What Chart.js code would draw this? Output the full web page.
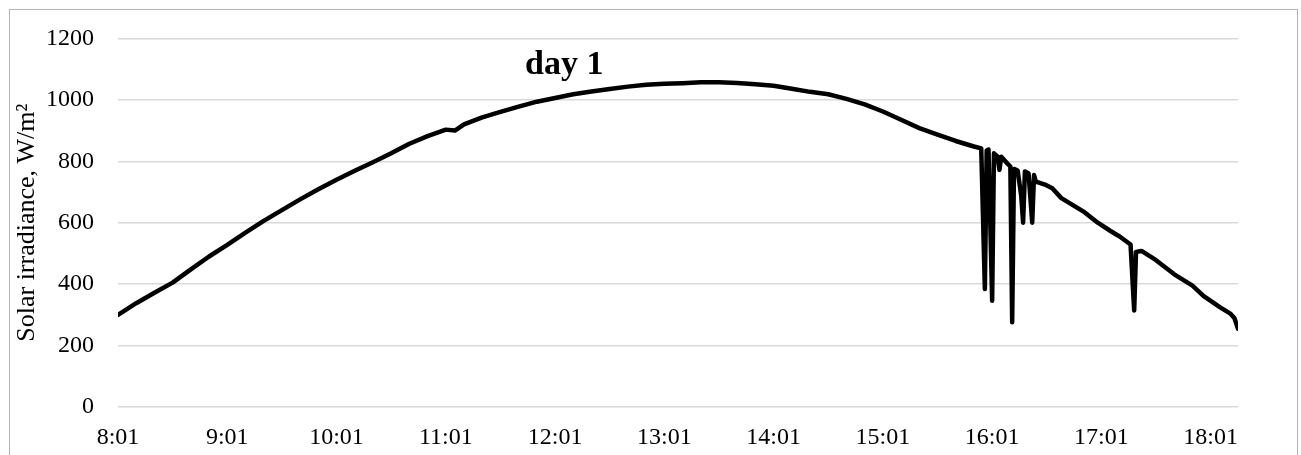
<!DOCTYPE html>
<html>
<head>
<meta charset="utf-8">
<script src="https://cdn.jsdelivr.net/npm/chart.js@4.4.0/dist/chart.umd.min.js"></script>
<style>
  body { margin: 0; background: #fff; }
  #wrap { position: relative; width: 1301px; height: 455px; overflow: hidden; }
  #frame { position: absolute; left: 9px; top: 9px; width: 1289px; height: 470px; box-sizing: border-box; border: 1px solid #b4b4b4; pointer-events: none; }
  canvas { position: absolute; left: 0; top: 0; }
</style>
</head>
<body>
<div id="wrap">
  <canvas id="chart-irr" width="1301" height="455"></canvas>
  <div id="frame"></div>
</div>
<script>
const minutes = [0,10,20,30,40,50,60,70,80,90,100,110,120,130,140,150,160,170,180,185,190,200,210,220,230,240,250,260,270,280,290,300,310,320,330,340,350,360,370,380,390,400,410,420,430,440,450,460,470,474,476,477,478,480,481,483,484,485,488,490,491,492,494,496,497,498,500,502,503,504,509,513,518,525,530,538,545,550,556,558,559,562,570,580,590,596,605,611,613,615];
const irradiance = [300,338,372,405,448,490,528,568,606,641,676,709,740,769,797,826,857,882,903,900,920,943,961,978,994,1006,1018,1027,1035,1043,1049,1052,1054,1057,1057,1055,1051,1046,1036,1026,1018,1003,985,962,935,908,887,866,848,842,384,835,838,346,826,815,772,815,795,783,276,775,770,686,600,767,760,600,755,734,724,712,680,655,637,600,573,555,529,314,505,508,478,432,395,362,325,303,290,255];
const tickLabels = ['8:01','9:01','10:01','11:01','12:01','13:01','14:01','15:01','16:01','17:01','18:01'];
const chartTitle = 'day 1';

const serif = "'Liberation Serif', 'Times New Roman', serif";
Chart.defaults.font.family = serif;
Chart.defaults.color = '#000';

const points = minutes.map((m, i) => ({x: m, y: irradiance[i]}));

// draws "day 1" inside the plot, placed with the scales
const dayLabel = {
    id: 'dayLabel',
    afterDatasetsDraw(chart) {
        const ctx = chart.ctx;
        const x = chart.scales.x.getPixelForValue(245);
        const y = chart.scales.y.getPixelForValue(1085);
        ctx.save();
        ctx.font = 'bold 34px ' + serif;
        ctx.fillStyle = '#000';
        ctx.textAlign = 'center';
        ctx.textBaseline = 'alphabetic';
        ctx.fillText(chartTitle, x, y);
        ctx.restore();
    }
};

new Chart(document.getElementById('chart-irr'), {
    type: 'line',
    data: {
        datasets: [{
            data: points,
            borderColor: '#000',
            borderWidth: 4.5,
            pointRadius: 0,
            tension: 0,
            borderJoinStyle: 'round',
            borderCapStyle: 'round'
        }]
    },
    options: {
        responsive: false,
        animation: false,
        devicePixelRatio: 1,
        layout: { padding: { left: 10, right: 63, top: 35, bottom: 0 } },
        plugins: { legend: { display: false }, tooltip: { enabled: false } },
        scales: {
            x: {
                type: 'linear',
                min: 0,
                max: 615,
                afterFit: (s) => { s.height = 48; },
                grid: { display: false, drawTicks: false },
                border: { display: false },
                ticks: {
                    stepSize: 60,
                    includeBounds: false,
                    autoSkip: false,
                    maxRotation: 0,
                    padding: 16,
                    font: { size: 24 },
                    callback: (v) => tickLabels[v / 60]
                }
            },
            y: {
                min: 0,
                max: 1200,
                afterFit: (s) => { s.width = 108; },
                grid: { color: '#d9d9d9', lineWidth: 1.5, drawTicks: false },
                border: { display: false },
                ticks: { stepSize: 200, padding: 24, font: { size: 24 }, callback: (v) => String(v) },
                title: {
                    display: true,
                    text: 'Solar irradiance, W/m²',
                    font: { size: 26 },
                    padding: { top: 2, bottom: 0 }
                }
            }
        }
    },
    plugins: [dayLabel]
});
</script>
</body>
</html>
